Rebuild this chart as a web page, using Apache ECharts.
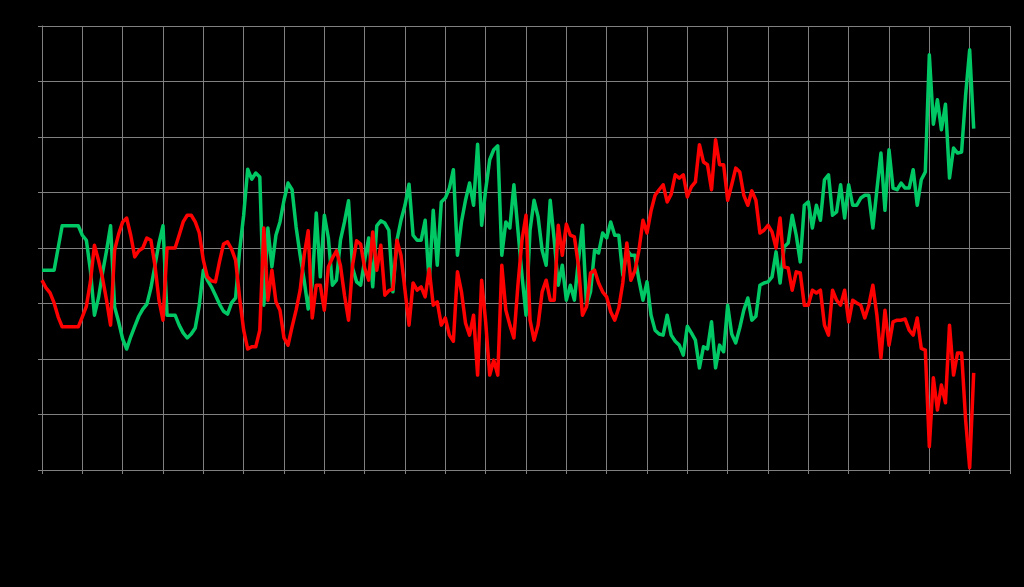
<!DOCTYPE html>
<html>
<head>
<meta charset="utf-8">
<script src="https://cdn.jsdelivr.net/npm/echarts@6/dist/echarts.min.js"></script>
<style>
html,body{margin:0;padding:0;background:#000;}
#chart{width:1024px;height:587px;}
</style>
</head>
<body>
<div id="chart"></div>
<script>
// Series values, one per period (index 0..231 on a 0..240 axis)
const greenSeries = [
36.0,36.0,36.0,36.0,40.0,44.0,44.0,44.0,44.0,44.0,
42.3,41.4,36.0,27.9,31.0,35.5,39.5,44.0,29.4,26.7,
23.6,21.8,24.0,25.9,27.7,29.0,29.9,32.8,36.8,40.9,
44.0,27.9,27.9,27.9,26.1,24.7,23.8,24.5,25.6,29.7,
36.0,34.2,33.0,31.5,29.9,28.6,28.1,30.1,31.0,39.6,
45.9,54.2,52.4,53.5,52.8,29.7,43.6,36.6,42.3,44.7,
48.6,51.7,50.5,43.8,38.7,34.2,29.0,33.5,46.3,34.8,
45.9,41.8,33.3,34.2,41.4,44.7,48.5,36.4,33.9,33.3,
37.8,41.8,33.0,44.0,44.9,44.5,43.2,32.1,41.4,45.0,
47.7,51.5,42.3,41.4,41.4,45.0,33.7,46.8,36.9,48.3,
49.0,50.8,54.1,38.7,44.7,48.6,51.7,47.7,58.7,44.1,
50.5,55.9,57.7,58.4,38.7,44.7,43.6,51.4,43.2,35.1,
27.9,43.2,48.6,45.6,39.6,36.9,48.6,41.4,33.3,36.9,
30.6,33.3,30.6,37.8,44.1,29.7,32.1,39.6,39.1,42.7,
41.8,44.7,42.3,42.3,35.1,39.6,38.7,38.7,34.2,30.6,
33.9,27.9,25.2,24.5,24.3,27.9,24.3,23.2,22.5,20.7,
25.9,24.7,23.4,18.4,22.2,21.8,26.7,18.4,22.5,21.3,
29.7,24.5,22.9,25.6,28.8,31.0,27.0,27.7,33.3,33.7,
33.9,34.8,39.3,33.7,40.2,40.9,45.9,42.3,37.5,47.7,
48.3,43.6,47.7,45.0,52.3,53.2,45.9,46.5,51.4,45.4,
51.4,47.7,47.7,49.0,49.5,49.5,43.6,50.5,57.1,46.8,
57.7,50.8,50.5,51.7,50.8,50.8,54.1,47.7,52.3,53.7,
74.8,62.3,66.7,61.3,65.9,52.6,58.0,57.1,57.3,67.6,
75.7,61.5
];
const redSeries = [
34.2,32.8,31.9,30.1,27.6,25.8,25.8,25.8,25.8,25.8,
27.6,29.5,33.9,40.5,37.8,34.6,30.6,26.1,39.6,42.5,
44.7,45.4,42.3,38.4,39.5,40.0,41.8,41.4,36.9,30.6,
27.0,40.0,40.0,40.0,42.3,44.7,45.9,45.9,44.7,42.7,
37.8,34.8,34.1,33.9,37.5,40.7,41.1,39.8,37.8,31.0,
25.2,21.8,22.2,22.2,25.2,43.6,30.6,36.0,30.3,28.8,
23.8,22.5,25.8,28.8,32.4,38.7,43.1,27.4,33.3,33.3,
28.8,36.6,38.2,39.5,36.8,31.5,27.0,36.9,41.3,40.7,
36.4,34.2,42.9,36.0,40.5,31.5,32.3,32.6,41.4,38.7,
32.4,26.1,33.7,32.4,33.0,31.2,36.2,29.7,30.3,26.1,
27.4,24.3,23.2,35.7,32.1,26.5,24.3,27.9,17.1,34.2,
26.7,17.1,19.8,17.1,36.9,28.8,26.1,23.8,33.3,41.4,
45.9,27.0,23.4,26.1,32.1,34.2,30.6,30.6,44.1,38.7,
44.3,42.3,42.0,36.9,27.9,29.4,35.5,36.0,33.7,32.1,
31.2,28.5,27.0,29.2,33.7,40.9,34.2,35.9,39.6,45.0,
42.7,46.7,49.5,50.5,51.4,48.3,49.7,53.2,52.6,53.2,
49.2,51.0,51.9,58.6,55.5,55.0,50.5,59.5,55.0,55.0,
48.6,51.4,54.4,53.7,49.5,47.7,50.3,48.6,42.7,43.2,
44.1,42.9,40.0,45.4,36.6,36.4,32.4,35.7,35.5,29.7,
29.7,32.4,31.9,32.4,26.1,24.3,32.4,30.6,29.7,32.4,
26.7,30.6,30.1,29.7,27.4,29.7,33.3,27.9,20.2,28.8,
22.5,26.7,27.0,27.0,27.2,25.2,24.3,27.4,21.9,21.6,
4.2,16.6,10.8,15.3,12.1,26.1,17.1,21.1,21.1,9.0,
0.4,17.5
];
const xMin = 0, xMax = 240, xStep = 10;
const yMin = 0, yMax = 80, yStep = 10;

const chart = echarts.init(document.getElementById('chart'), null, {renderer: 'canvas'});
const gridColor = '#808080';
chart.setOption({
  backgroundColor: '#000000',
  animation: false,
  grid: {left: 42, right: 14, top: 26, bottom: 117, containLabel: false},
  xAxis: {
    type: 'value', min: xMin, max: xMax, interval: xStep,
    axisLine: {show: true, lineStyle: {color: gridColor, width: 1}},
    axisTick: {show: true, length: 4, lineStyle: {color: gridColor}},
    axisLabel: {show: false},
    splitLine: {show: true, lineStyle: {color: gridColor, width: 1}}
  },
  yAxis: {
    type: 'value', min: yMin, max: yMax, interval: yStep,
    axisLine: {show: true, lineStyle: {color: gridColor, width: 1}},
    axisTick: {show: true, length: 4, lineStyle: {color: gridColor}},
    axisLabel: {show: false},
    splitLine: {show: true, lineStyle: {color: gridColor, width: 1}}
  },
  series: [
    {
      type: 'line', name: 'green', showSymbol: false, symbol: 'none',
      data: greenSeries.map((v, i) => [i, v]),
      lineStyle: {color: '#00c864', width: 3.5, join: 'round'}
    },
    {
      type: 'line', name: 'red', showSymbol: false, symbol: 'none',
      data: redSeries.map((v, i) => [i, v]),
      lineStyle: {color: '#ff0000', width: 3.5, join: 'round'}
    }
  ]
});
</script>
</body>
</html>
